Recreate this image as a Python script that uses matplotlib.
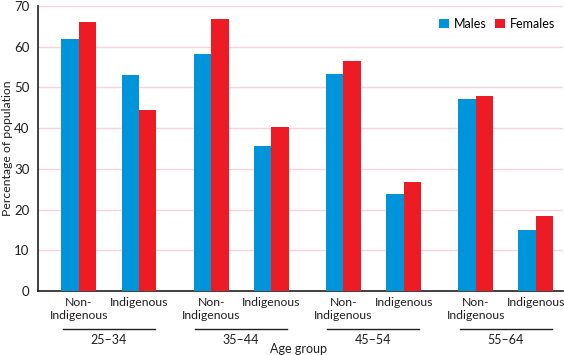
import numpy as np
import matplotlib.pyplot as plt
import matplotlib.transforms as mtransforms

plt.rcParams['font.family'] = ['Lato', 'DejaVu Sans']

# datos
grupos = ['25–34', '35–44', '45–54', '55–64']
categorias = ['Non-\nIndigenous', 'Indigenous']
hombres = [62.0, 53.0, 58.1, 35.6, 53.4, 23.9, 47.1, 15.1]
mujeres = [66.0, 44.5, 66.7, 40.4, 56.6, 26.7, 47.8, 18.4]
yticks = [0, 10, 20, 30, 40, 50, 60, 70]

azul = '#0095da'
rojo = '#ed1c24'
rosa = '#f9d3db'
negro = '#231f20'

# posiciones: pares separados 1, grupos separados 2.2
pos = []
for g in range(len(grupos)):
    pos.append(g * 2.2)
    pos.append(g * 2.2 + 1)
pos = np.array(pos)
ancho = 0.29

fig = plt.figure(figsize=(5.64, 3.55), dpi=100)
ax = fig.add_axes([38 / 564, (355 - 291) / 355, (563 - 38) / 564, 285 / 355])

ax.bar(pos - ancho / 2, hombres, ancho, color=azul, label='Males', zorder=3)
ax.bar(pos + ancho / 2, mujeres, ancho, color=rojo, label='Females', zorder=3)

ax.set_ylim(0, 70)
ax.set_xlim(pos[0] - 0.68, pos[-1] + 0.45)
ax.set_yticks(yticks)
ax.tick_params(axis='y', length=0, pad=6, labelsize=9.5, colors=negro)
ax.set_xticks([])
ax.grid(axis='y', color=rosa, linewidth=1, zorder=0)
for s in ['top', 'right']:
    ax.spines[s].set_visible(False)
for s in ['left', 'bottom']:
    ax.spines[s].set_linewidth(1.2)
    ax.spines[s].set_color(negro)

fig.text(8 / 564, (355 - 148) / 355, 'Percentage of population', rotation=90,
         ha='center', va='center', fontsize=8.8, color=negro)

# etiquetas de categoria y grupo
trans = mtransforms.blended_transform_factory(ax.transData, ax.transAxes)
for i, x in enumerate(pos):
    ax.text(x, -0.022, categorias[i % 2], transform=trans, ha='center', va='top',
            fontsize=8.8, linespacing=1.15, color=negro)
for g, nombre in enumerate(grupos):
    x0 = pos[2 * g] - 0.27
    x1 = pos[2 * g + 1] + 0.26
    ax.plot([x0, x1], [-0.133, -0.133], transform=trans, color=negro,
            linewidth=1, clip_on=False)
    ax.text((x0 + x1) / 2, -0.152, nombre, transform=trans, ha='center', va='top',
            fontsize=9, color=negro)

ax.text(0.497, -0.183, 'Age group', transform=ax.transAxes, ha='center', va='top',
        fontsize=9, color=negro)

ax.legend(loc='upper right', bbox_to_anchor=(1.0, 0.985), frameon=False, ncol=2,
          fontsize=9, handlelength=0.8, handleheight=0.8, handletextpad=0.4,
          columnspacing=0.7, borderaxespad=0.2)

fig.savefig('out.png', dpi=100)
